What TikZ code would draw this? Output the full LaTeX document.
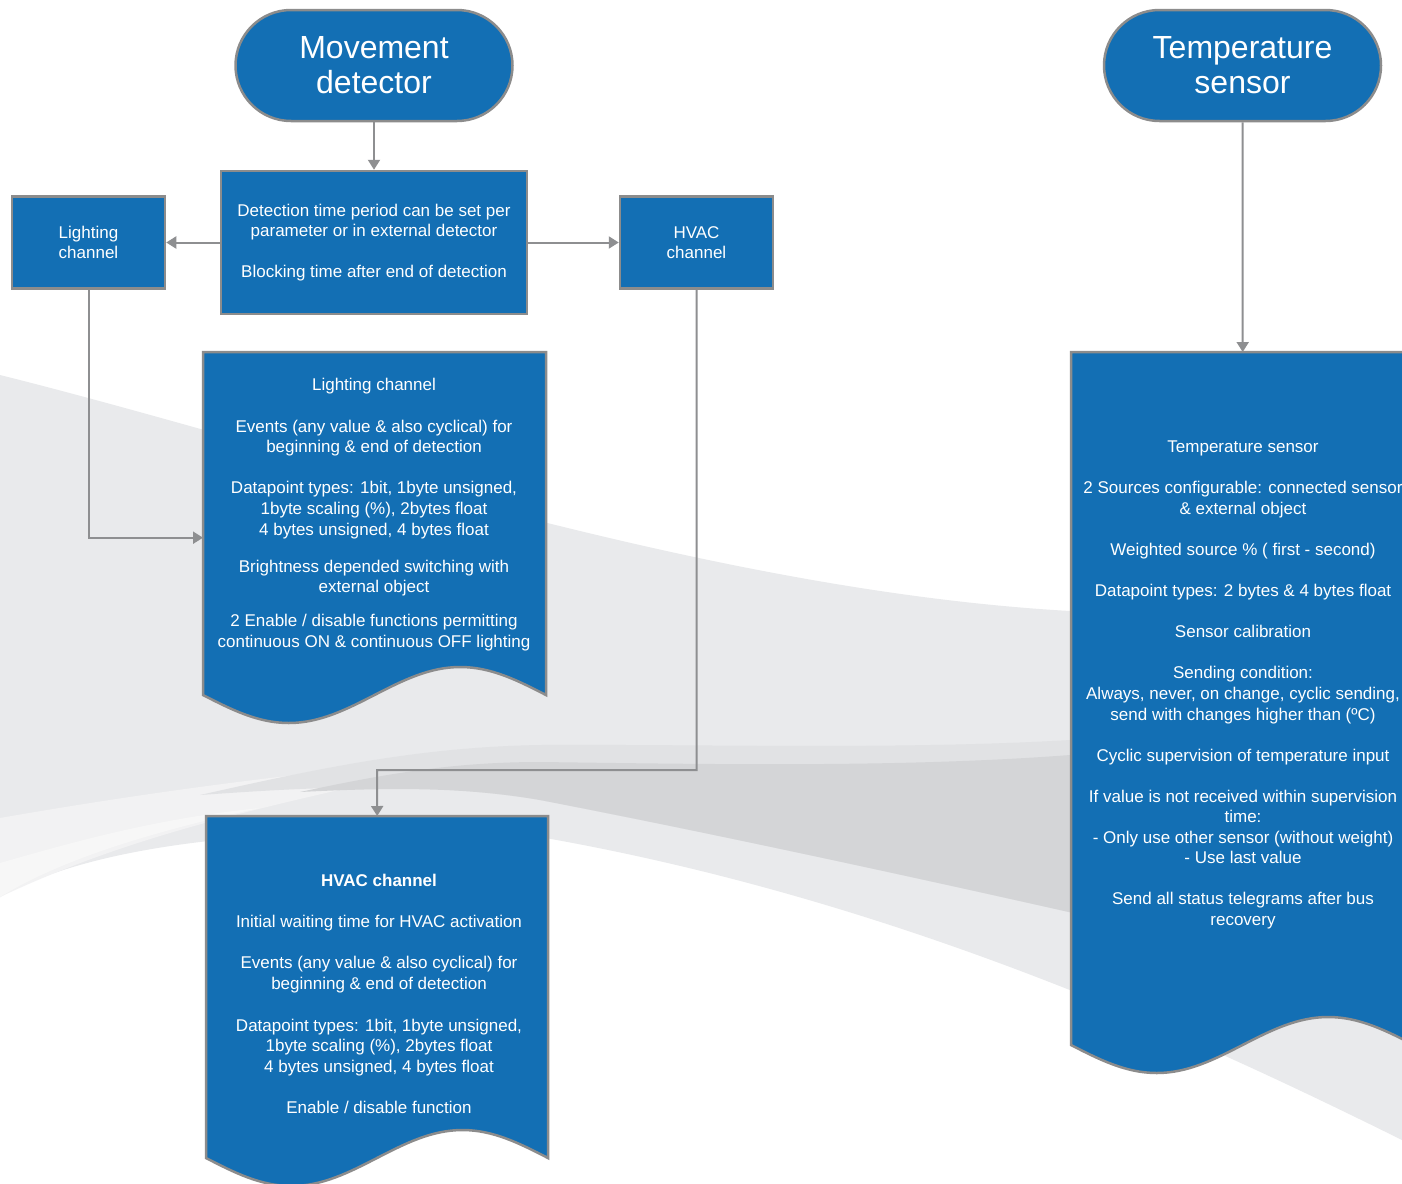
\documentclass[tikz,border=0pt]{standalone}
\usepackage{fontspec}
\setmainfont{Liberation Sans}
\usetikzlibrary{arrows.meta,shapes.misc,calc}

\definecolor{kblue}{RGB}{19,111,180}
\definecolor{kborder}{RGB}{140,140,140}
\definecolor{kline}{RGB}{142,143,145}
\definecolor{bgbase}{RGB}{233,234,236}
\definecolor{bgmid}{RGB}{225,226,228}
\definecolor{bgdark}{RGB}{212,213,215}
\definecolor{bglightA}{RGB}{242,242,243}
\definecolor{bglightB}{RGB}{247,247,247}

\tikzset{
  blk/.style={fill=kblue, draw=kborder, line width=2.5pt, text=white},
  terminal/.style={blk, rounded rectangle, minimum width=277pt, minimum height=111pt,
    inner sep=0pt, align=center, font=\fontsize{32}{35}\selectfont},
  procbox/.style={blk, rectangle, inner sep=0pt, align=center,
    font=\fontsize{17}{20.6}\selectfont},
  docframe/.style={rectangle, draw=none, fill=none, inner sep=0pt},
  docfill/.style={fill=kblue, draw=kborder, line width=2.5pt},
  doctext/.style={text=white, inner sep=0pt, align=center,
    font=\fontsize{17}{20.6}\selectfont},
  conn/.style={draw=kline, line width=2pt, -{Triangle[length=10pt,width=12pt]}},
}

% document symbol: name, left x, top y, width, y of the wave ends
\newcommand\docshape[5]{%
  \node[docframe, minimum width=#4, minimum height=#5-#3+28, anchor=north west] (#1) at (#2,#3) {};
  \path[docfill] (#2,#3) -- ++(#4,0) -- (#2+#4,#5)
    sin (#2+0.75*#4,#5-28) cos (#2+0.5*#4,#5)
    sin (#2+0.25*#4,#5+28) cos (#2,#5) -- cycle;
}

\begin{document}
\begin{tikzpicture}[x=1pt,y=-1pt]
\useasboundingbox (0,0) rectangle (1402,1183);
\fill[white] (0,0) rectangle (1402,1183);

% ---- background swooshes ----
\fill[bgbase] (0,375) .. controls (300,450) and (700,590) .. (1070,611)
  -- (1402,618) -- (1402,1140)
  .. controls (1200,1040) and (900,900) .. (540,837)
  .. controls (300,822) and (100,840) .. (0,897) -- cycle;
\fill[bglightA] (0,818) .. controls (160,790) and (330,768) .. (480,758)
  .. controls (300,800) and (150,826) .. (0,897) -- cycle;
\fill[bglightB] (0,863) .. controls (80,840) and (160,818) .. (260,808)
  .. controls (150,832) and (60,860) .. (0,897) -- cycle;
\fill[bgmid] (200,795) .. controls (320,768) and (420,747) .. (540,745)
  .. controls (700,744) and (900,750) .. (1070,740) -- (1402,735)
  -- (1402,990) .. controls (1200,940) and (800,850) .. (540,800)
  .. controls (420,780) and (300,788) .. (200,795) -- cycle;
\fill[bgdark] (300,792) .. controls (380,775) and (450,762) .. (540,762)
  .. controls (700,764) and (900,768) .. (1070,755) -- (1402,748)
  -- (1402,990) .. controls (1200,940) and (800,850) .. (540,800)
  .. controls (460,786) and (380,788) .. (300,792) -- cycle;

% ---- flowchart ----
\node[terminal] (md) at (374,65.5) {Movement\\detector};
\node[terminal] (ts) at (1242.5,65.5) {Temperature\\sensor};

\node[procbox, minimum width=306pt, minimum height=143pt] (det) at (374,242.5)
  {Detection time period can be set per\\parameter or in external detector\\[20.4pt]Blocking time after end of detection};
\node[procbox, minimum width=153pt, minimum height=92pt] (lch) at (88.5,242.5) {Lighting\\channel};
\node[procbox, minimum width=153pt, minimum height=92pt] (hch) at (696.5,242.5) {HVAC\\channel};

\docshape{ldoc}{203}{352}{343}{695}
\docshape{hdoc}{206}{816}{342}{1158}
\docshape{tdoc}{1071}{352}{343}{1045}

\node[doctext] (ltxt) at (374,514.5) {Lighting channel\\[21pt]
Events (any value \& also cyclical) for\\
beginning \& end of detection\\[20.4pt]
Datapoint types: 1bit, 1byte unsigned,\\
1byte scaling (\%), 2bytes float\\
4 bytes unsigned, 4 bytes float\\[16.4pt]
Brightness depended switching with\\
external object\\[13.4pt]
2 Enable / disable functions permitting\\
continuous ON \& continuous OFF lighting};

\node[doctext] (htxt) at (379,994) {\textbf{HVAC channel}\\[20.4pt]
Initial waiting time for HVAC activation\\[20.4pt]
Events (any value \& also cyclical) for\\
beginning \& end of detection\\[21pt]
Datapoint types: 1bit, 1byte unsigned,\\
1byte scaling (\%), 2bytes float\\
4 bytes unsigned, 4 bytes float\\[20.4pt]
Enable / disable function};

\node[doctext] (ttxt) at (1243,685) {Temperature sensor\\[20.4pt]
2 Sources configurable: connected sensor\\
\& external object\\[20.4pt]
Weighted source \% ( first - second)\\[20.4pt]
Datapoint types: 2 bytes \& 4 bytes float\\[20.4pt]
Sensor calibration\\[21pt]
Sending condition:\\
Always, never, on change, cyclic sending,\\
send with changes higher than (ºC)\\[20.4pt]
Cyclic supervision of temperature input\\[20.4pt]
If value is not received within supervision\\
time:\\
- Only use other sensor (without weight)\\
- Use last value\\[20.4pt]
Send all status telegrams after bus\\
recovery};

% ---- connectors ----
\coordinate (hturn) at (377,770);
\draw[conn] (md.south) -- (det.north);
\draw[conn] (det.west) -- (lch.east);
\draw[conn] (det.east) -- (hch.west);
\draw[conn] (lch.south) |- (ldoc.west);
\draw[conn] (hch.south) |- (hturn) -- (hdoc.north);
\draw[conn] (ts.south) -- (tdoc.north);
\end{tikzpicture}
\end{document}
